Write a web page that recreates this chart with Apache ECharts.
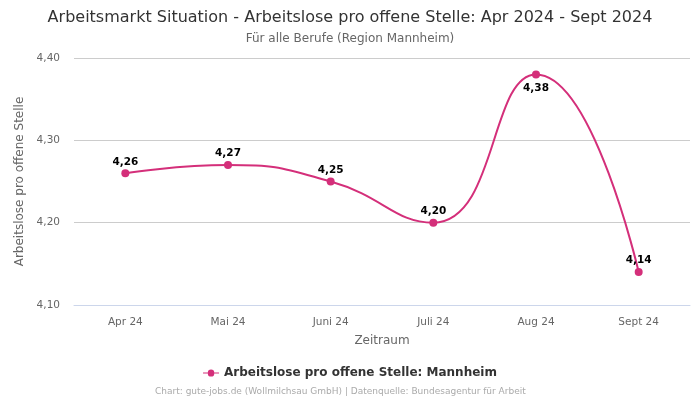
<!DOCTYPE html>
<html><head><meta charset="utf-8">
<script src="https://cdn.jsdelivr.net/npm/echarts@6/dist/echarts.min.js"></script>
<style>html,body{margin:0;padding:0;background:#fff}#c{width:700px;height:400px}</style>
</head><body><div id="c"></div>
<script>
var categories = ['Apr 24','Mai 24','Juni 24','Juli 24','Aug 24','Sept 24'];
var values = [4.26, 4.27, 4.25, 4.20, 4.38, 4.14];
var labelPositions = ['top','top','top','top','bottom','top'];
var yTicks = {min: 4.1, max: 4.4, interval: 0.1};
var color = '#d42f7a';
var font = 'DejaVu Sans';
function fmt(v){ return v.toFixed(2).replace('.', ','); }
var chart = echarts.init(document.getElementById('c'), null, {renderer:'canvas'});
chart.setOption({
  animation:false,
  textStyle:{fontFamily:font},
  title:[
    {text:'Arbeitsmarkt Situation - Arbeitslose pro offene Stelle: Apr 2024 - Sept 2024', left:'center', top:10, padding:0,
     textStyle:{fontFamily:font, fontSize:16, fontWeight:'normal', color:'#333'}},
    {text:'Für alle Berufe (Region Mannheim)', left:'center', top:33, padding:0,
     textStyle:{fontFamily:font, fontSize:12, fontWeight:'normal', color:'#666'}},
    {text:'Chart: gute-jobs.de (Wollmilchsau GmbH) | Datenquelle: Bundesagentur für Arbeit', left:155, top:387, padding:0,
     textStyle:{fontFamily:font, fontSize:9, fontWeight:'normal', color:'#aaa'}}
  ],
  legend:{bottom:16, left:'center', itemWidth:16, itemHeight:8, icon:'path://M0,4 L6,4 A4,4 0 1,1 14,4 L20,4 L20,5 L14,5 A4,4 0 1,1 6,5 L0,5 Z',
    textStyle:{fontFamily:font, fontSize:12, fontWeight:'bold', color:'#333'},
    data:['Arbeitslose pro offene Stelle: Mannheim']},
  grid:{left:74, right:10, top:58, bottom:95},
  xAxis:{type:'category', data:categories, boundaryGap:true,
    name:'Zeitraum', nameLocation:'middle', nameGap:30,
    nameTextStyle:{fontFamily:font, fontSize:12, color:'#666'},
    axisLine:{lineStyle:{color:'#ccd6eb'}}, axisTick:{show:false},
    axisLabel:{fontFamily:font, fontSize:10.5, color:'#666', margin:12}},
  yAxis:{type:'value', min:yTicks.min, max:yTicks.max, interval:yTicks.interval,
    name:'Arbeitslose pro offene Stelle', nameLocation:'middle', nameGap:48,
    nameTextStyle:{fontFamily:font, fontSize:12, color:'#666'},
    axisLine:{show:false}, axisTick:{show:false},
    axisLabel:{fontFamily:font, fontSize:10.5, color:'#666', margin:14, formatter:function(v){return fmt(v);}},
    splitLine:{lineStyle:{color:'#cccccc'}}},
  series:[{
    name:'Arbeitslose pro offene Stelle: Mannheim', type:'line', smooth:0.5,
    data: values.map(function(v,i){return {value:v, label:{position:labelPositions[i], distance:labelPositions[i]==='bottom'?4:2}};}),
    symbol:'circle', symbolSize:8,
    lineStyle:{color:color, width:2}, itemStyle:{color:color},
    label:{show:true, fontFamily:font, fontSize:10.5, fontWeight:'bold', color:'#000', distance:2,
      formatter:function(p){return fmt(p.value);}}
  }]
});
</script></body></html>
